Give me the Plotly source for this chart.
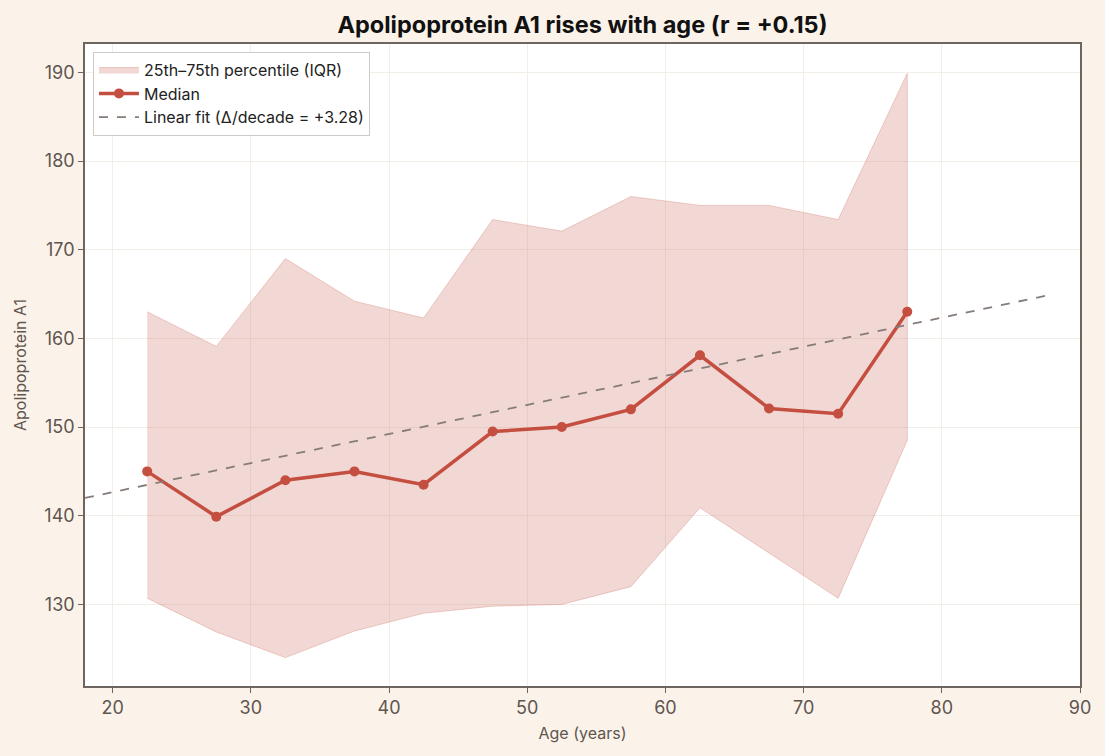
import plotly.graph_objects as go

age_mid = [22.5, 27.5, 32.5, 37.5, 42.5, 47.5, 52.5, 57.5, 62.5, 67.5, 72.5, 77.5]
median = [145.0, 139.9, 144.0, 145.0, 143.5, 149.5, 150.0, 152.0, 158.1, 152.1, 151.5, 163.0]
q75 = [163.0, 159.1, 169.0, 164.2, 162.3, 173.4, 172.1, 176.0, 175.0, 175.0, 173.4, 189.9]
q25 = [130.7, 126.9, 124.0, 127.0, 129.0, 129.8, 130.0, 132.0, 140.9, 135.8, 130.7, 148.5]
fit_x = [18, 88]
fit_slope = 0.328
fit_intercept = 136.1
fit_y = [fit_intercept + fit_slope * v for v in fit_x]

RED = "#C44E3F"
FONT = "Inter"

fig = go.Figure()
fig.add_trace(go.Scatter(
    x=age_mid + age_mid[::-1], y=q75 + q25[::-1],
    fill="toself", fillcolor="rgba(196,78,63,0.22)",
    line=dict(color="rgba(196,78,63,0.25)", width=1),
    mode="lines", name="25th\u201375th percentile (IQR)", hoverinfo="skip"))
fig.add_trace(go.Scatter(
    x=age_mid, y=median, mode="lines+markers", name="Median",
    line=dict(color=RED, width=3.5), marker=dict(color=RED, size=10)))
fig.add_trace(go.Scatter(
    x=fit_x, y=fit_y, mode="lines", name="Linear fit (\u0394/decade = +3.28)",
    line=dict(color="#857C78", width=1.8, dash="dash")))

axis_common = dict(
    showline=True, linecolor="#6E6460", linewidth=1.5, mirror=True,
    ticks="outside", ticklen=5, tickcolor="#6E6460", tickwidth=1.2,
    showgrid=True, gridcolor="#F3EFE8", gridwidth=1, zeroline=False,
    tickfont=dict(family=FONT, size=18, color="#5F5550"),
)

fig.update_layout(
    width=1105, height=756,
    paper_bgcolor="#FBF3E9", plot_bgcolor="#FFFFFF",
    margin=dict(l=85, r=25, t=44, b=70),
    title=dict(text="<b>Apolipoprotein A1 rises with age (r = +0.15)</b>",
               x=0.5, xref="paper", xanchor="center", y=0.967, yanchor="middle",
               font=dict(family=FONT, size=23.5, color="#111111")),
    xaxis=dict(range=[18, 90], tickvals=[20, 30, 40, 50, 60, 70, 80, 90],
               title=dict(text="Age (years)", standoff=10,
                          font=dict(family=FONT, size=16, color="#5F5550")),
               **axis_common),
    yaxis=dict(range=[120.8, 193.2], tickvals=[130, 140, 150, 160, 170, 180, 190],
               title=dict(text="Apolipoprotein A1", standoff=14,
                          font=dict(family=FONT, size=16, color="#5F5550")),
               **axis_common),
    legend=dict(x=0.008, y=0.988, xanchor="left", yanchor="top",
                bgcolor="rgba(255,255,255,0.9)", bordercolor="#CFCAC6", borderwidth=1,
                font=dict(family=FONT, size=16, color="#222222"),
                tracegroupgap=2, itemwidth=40),
    showlegend=True,
)

fig.write_html("out.html")
